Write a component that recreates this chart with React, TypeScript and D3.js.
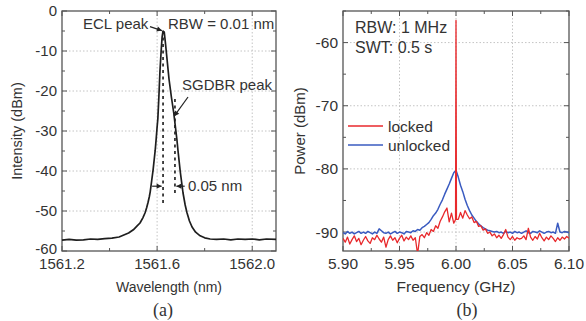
import React from "react";
import * as d3 from "d3";

// ---------- Data: panel (a) ----------
const eclWavelength = [
  1561.20, 1561.23, 1561.26, 1561.29, 1561.32, 1561.35, 1561.38, 1561.41, 1561.44, 1561.46,
  1561.48, 1561.50, 1561.515, 1561.528, 1561.54, 1561.549, 1561.556, 1561.562, 1561.567, 1561.571,
  1561.577, 1561.583, 1561.588, 1561.592, 1561.596, 1561.600, 1561.603, 1561.607, 1561.612, 1561.617,
  1561.621, 1561.625, 1561.630, 1561.635, 1561.640, 1561.650, 1561.660, 1561.670, 1561.676, 1561.683,
  1561.688, 1561.697, 1561.709, 1561.718, 1561.726, 1561.736, 1561.747, 1561.762, 1561.781, 1561.800,
  1561.823, 1561.85, 1561.88, 1561.91, 1561.94, 1561.97, 1562.00, 1562.03, 1562.06, 1562.10,
];
const eclIntensity = [
  -57.3, -57.1, -57.3, -57.2, -57.0, -57.1, -56.9, -56.8, -56.5, -56.0,
  -55.5, -54.7, -53.8, -53.0, -51.7, -50.5, -49.2, -47.8, -46.5, -45.2,
  -42.5, -39.8, -37.0, -34.8, -32.0, -29.0, -27.0, -22.0, -15.0, -10.0,
  -6.5, -5.0, -5.3, -8.0, -11.0, -17.0, -21.5, -25.5, -28.5, -32.0,
  -35.0, -40.0, -45.5, -48.5, -50.5, -52.5, -54.0, -55.3, -56.2, -56.7,
  -57.0, -57.1, -57.0, -57.2, -57.0, -57.1, -57.0, -57.2, -57.0, -57.1,
];
// dotted marker lines: [wavelength, top dBm, bottom dBm]
const markerLines = [
  [1561.625, -5, -48],
  [1561.675, -22, -46],
];
const xTicksA = [1561.2, 1561.6, 1562.0];
const xMinorA = [1561.4, 1561.8];
const yTicksA = [0, -10, -20, -30, -40, -50, -60];
const yMinorA = [-5, -15, -25, -35, -45, -55];

// ---------- Data: panel (b) ----------
const freqStart = 5.9;
const freqStep = 0.002;
const lockedPower = [
  -91.0, -91.6, -90.8, -91.9, -91.2, -90.6, -91.5, -91.0, -92.0, -91.3,
  -90.7, -91.4, -91.8, -90.9, -91.2, -90.5, -91.1, -91.6, -90.8, -92.4,
  -91.2, -90.6, -91.3, -90.9, -91.7, -91.0, -90.5, -91.4, -90.8, -91.2,
  -90.6, -91.3, -90.9, -93.5, -90.7, -90.4, -90.9, -90.1, -90.5, -89.6,
  -89.9, -89.0, -89.4, -88.3, -87.6, -86.8, -86.2, -88.4, -87.0, -88.6,
  -88.2, -88.0, -86.9, -87.8, -86.6, -87.3, -87.9, -87.6, -88.5, -88.3,
  -89.1, -89.0, -89.7, -89.5, -90.2, -90.0, -90.6, -90.3, -90.9, -90.5,
  -91.0, -90.4, -89.6, -90.8, -91.2, -90.7, -91.3, -90.9, -91.1, -91.0,
  -90.6, -91.2, -89.4, -90.8, -91.3, -90.7, -91.1, -90.2, -90.9, -91.4,
  -90.8, -91.2, -90.6, -91.0, -91.5, -90.9, -91.3, -90.8, -91.1, -90.7,
  -91.0,
];
// narrow locked carrier spike around 6.000 GHz
const spikeFreq = [5.9996, 6.0, 6.0004];
const spikePower = [-88.0, -56.5, -88.0];
const unlockedPower = [
  -90.1, -90.3, -89.9, -90.2, -90.0, -90.3, -90.1, -89.9, -90.2, -90.0,
  -90.2, -89.9, -90.1, -90.3, -90.0, -90.2, -89.5, -89.8, -90.1, -90.2,
  -90.0, -90.3, -90.1, -89.9, -90.2, -90.0, -90.1, -90.3, -89.9, -90.0,
  -90.1, -89.8, -89.9, -89.6, -89.7, -89.3, -89.1, -88.8, -88.5, -88.0,
  -87.4, -87.0, -86.4, -85.6, -84.9, -84.0, -83.2, -82.4, -81.5, -80.6,
  -80.2, -81.3, -82.6, -83.6, -84.8, -85.8, -86.6, -87.3, -87.8, -88.3,
  -88.7, -89.0, -89.3, -89.5, -89.7, -89.8, -89.9, -90.0, -89.9, -90.1,
  -90.0, -90.2, -89.9, -90.1, -90.0, -90.2, -89.9, -90.1, -90.0, -90.2,
  -90.0, -89.8, -90.1, -90.2, -89.9, -90.0, -90.1, -89.8, -90.0, -90.2,
  -90.0, -89.9, -90.1, -90.0, -90.2, -88.6, -90.0, -90.1, -89.9, -90.0,
  -90.1,
];
const xTicksB = [5.9, 5.95, 6.0, 6.05, 6.1];
const xMinorB = [5.925, 5.975, 6.025, 6.075];
const yTicksB = [-60, -70, -80, -90];
const yMinorB = [-55, -65, -75, -85];

const SANS = "'Liberation Sans', Arial, sans-serif";
const TXT = "#333";
const GRID = "#c4c4c4";
const FRAME = "#555";
const RED = "#e8292c";
const BLUE = "#3a5bc0";

type Box = { x0: number; x1: number; y0: number; y1: number };

function Frame({
  box, xs, ys, xMaj, xMin, yMaj, yMin, xGrid, yGrid, xFmt, yFmt, xLabelY, tickFont,
}: {
  box: Box;
  xs: d3.ScaleLinear<number, number>;
  ys: d3.ScaleLinear<number, number>;
  xMaj: number[]; xMin: number[]; yMaj: number[]; yMin: number[];
  xGrid: number[]; yGrid: number[];
  xFmt: (v: number) => string; yFmt: (v: number) => string;
  xLabelY: number; tickFont: number;
}) {
  const L = 5, l = 3;
  return (
    <g>
      {xGrid.map((v, i) => (
        <line key={"xg" + i} x1={xs(v)} x2={xs(v)} y1={box.y0} y2={box.y1}
          stroke={GRID} strokeWidth={1} strokeDasharray="1.5,2" />
      ))}
      {yGrid.map((v, i) => (
        <line key={"yg" + i} x1={box.x0} x2={box.x1} y1={ys(v)} y2={ys(v)}
          stroke={GRID} strokeWidth={1} strokeDasharray="1.5,2" />
      ))}
      {xMaj.map((v, i) => (
        <g key={"xt" + i}>
          <line x1={xs(v)} x2={xs(v)} y1={box.y1} y2={box.y1 - L} stroke={FRAME} />
          <line x1={xs(v)} x2={xs(v)} y1={box.y0} y2={box.y0 + L} stroke={FRAME} />
          <text x={xs(v)} y={xLabelY} textAnchor="middle" fontFamily={SANS} fontSize={tickFont} fill={TXT}>{xFmt(v)}</text>
        </g>
      ))}
      {xMin.map((v, i) => (
        <g key={"xm" + i}>
          <line x1={xs(v)} x2={xs(v)} y1={box.y1} y2={box.y1 - l} stroke={FRAME} />
          <line x1={xs(v)} x2={xs(v)} y1={box.y0} y2={box.y0 + l} stroke={FRAME} />
        </g>
      ))}
      {yMaj.map((v, i) => (
        <g key={"yt" + i}>
          <line x1={box.x0} x2={box.x0 + L} y1={ys(v)} y2={ys(v)} stroke={FRAME} />
          <line x1={box.x1} x2={box.x1 - L} y1={ys(v)} y2={ys(v)} stroke={FRAME} />
          <text x={box.x0 - 5} y={ys(v)} dy={i === yMaj.length - 1 && ys(v) > box.y1 - 2 ? "0.2em" : "0.36em"}
            textAnchor="end" fontFamily={SANS} fontSize={tickFont} fill={TXT}>{yFmt(v)}</text>
        </g>
      ))}
      {yMin.map((v, i) => (
        <g key={"ym" + i}>
          <line x1={box.x0} x2={box.x0 + l} y1={ys(v)} y2={ys(v)} stroke={FRAME} />
          <line x1={box.x1} x2={box.x1 - l} y1={ys(v)} y2={ys(v)} stroke={FRAME} />
        </g>
      ))}
      <rect x={box.x0} y={box.y0} width={box.x1 - box.x0} height={box.y1 - box.y0}
        fill="none" stroke={FRAME} strokeWidth={1.3} />
    </g>
  );
}

function Arrow({ x1, y1, x2, y2 }: { x1: number; y1: number; x2: number; y2: number }) {
  const a = Math.atan2(y2 - y1, x2 - x1);
  const h = 5, w = 2.6;
  const p1 = [x2 - h * Math.cos(a) + w * Math.sin(a), y2 - h * Math.sin(a) - w * Math.cos(a)];
  const p2 = [x2 - h * Math.cos(a) - w * Math.sin(a), y2 - h * Math.sin(a) + w * Math.cos(a)];
  return (
    <g>
      <line x1={x1} y1={y1} x2={x2} y2={y2} stroke="#222" strokeWidth={1.2} />
      <polygon points={`${x2},${y2} ${p1[0]},${p1[1]} ${p2[0]},${p2[1]}`} fill="#222" />
    </g>
  );
}

export default function App() {
  const boxA: Box = { x0: 62, x1: 276, y0: 11, y1: 251 };
  const boxB: Box = { x0: 343, x1: 569, y0: 11, y1: 251 };

  const xa = d3.scaleLinear().domain([1561.2, 1562.1]).range([boxA.x0, boxA.x1]);
  const ya = d3.scaleLinear().domain([-60, 0]).range([boxA.y1, boxA.y0]);
  const xb = d3.scaleLinear().domain([5.9, 6.1]).range([boxB.x0, boxB.x1]);
  const yb = d3.scaleLinear().domain([-93, -55]).range([boxB.y1, boxB.y0]);

  const eclPts: [number, number][] = eclWavelength.map((w, i) => [w, eclIntensity[i]]);
  const lineA = d3.line<[number, number]>().x((d) => xa(d[0])).y((d) => ya(d[1]));

  const lineB = d3.line<[number, number]>()
    .x((d) => xb(d[0]))
    .y((d) => yb(Math.max(-93.5, d[1])));

  const unlockedPts: [number, number][] = unlockedPower.map((v, i) => [freqStart + i * freqStep, v]);
  const lockedPts: [number, number][] = lockedPower
    .map((v, i) => [freqStart + i * freqStep, v] as [number, number])
    .filter((d) => Math.abs(d[0] - 6.0) > 1e-6)
    .concat(spikeFreq.map((f, i) => [f, spikePower[i]] as [number, number]))
    .sort((a, b) => a[0] - b[0]);

  return (
    <svg width={586} height={321} style={{ position: "absolute", left: 0, top: 0, background: "#fff" }}>
      <defs>
        <clipPath id="clipB">
          <rect x={boxB.x0} y={boxB.y0} width={boxB.x1 - boxB.x0} height={boxB.y1 - boxB.y0} />
        </clipPath>
      </defs>

      {/* Panel (a) */}
      <Frame box={boxA} xs={xa} ys={ya} xMaj={xTicksA} xMin={xMinorA} yMaj={yTicksA} yMin={yMinorA}
        xGrid={[1561.6, 1562.0]} yGrid={[-10, -20, -30, -40, -50]}
        xFmt={(v) => v.toFixed(1)} yFmt={(v) => String(v)} xLabelY={269} tickFont={15} />
      {markerLines.map((m, i) => (
        <line key={"mk" + i} x1={xa(m[0])} x2={xa(m[0])} y1={ya(m[1])} y2={ya(m[2])}
          stroke="#333" strokeWidth={1.8} strokeDasharray="3,3.5" />
      ))}
      <path d={lineA(eclPts) || ""} fill="none" stroke="#1e1e1e" strokeWidth={1.7} strokeLinejoin="round" />
      <text x={83} y={28.5} fontFamily={SANS} fontSize={15} fill={TXT}>ECL peak</text>
      <Arrow x1={xa(1561.57)} y1={ya(-3.9)} x2={xa(1561.62)} y2={ya(-4.9)} />
      <text x={168} y={28.5} fontFamily={SANS} fontSize={15} fill={TXT}>RBW = 0.01 nm</text>
      <text x={182} y={90} fontFamily={SANS} fontSize={15} fill={TXT}>SGDBR peak</text>
      <Arrow x1={xa(1561.73)} y1={ya(-21.5)} x2={xa(1561.672)} y2={ya(-26.3)} />
      <text x={188} y={190.5} fontFamily={SANS} fontSize={15} fill={TXT}>0.05 nm</text>
      <Arrow x1={xa(1561.579)} y1={ya(-43.8)} x2={xa(1561.619)} y2={ya(-43.8)} />
      <Arrow x1={xa(1561.716)} y1={ya(-43.8)} x2={xa(1561.681)} y2={ya(-43.8)} />
      <text transform="translate(22,131) rotate(-90)" textAnchor="middle" fontFamily={SANS} fontSize={14.5} fill={TXT}>Intensity (dBm)</text>
      <text x={169} y={292} textAnchor="middle" fontFamily={SANS} fontSize={14} fill={TXT}>Wavelength (nm)</text>
      <text x={163} y={316} textAnchor="middle" fontFamily="'Liberation Serif', 'Times New Roman', serif" fontSize={18} fill={TXT}>(a)</text>

      {/* Panel (b) */}
      <Frame box={boxB} xs={xb} ys={yb} xMaj={xTicksB} xMin={xMinorB} yMaj={yTicksB} yMin={yMinorB}
        xGrid={[5.95, 6.0, 6.05]} yGrid={[-60, -70, -80, -90]}
        xFmt={(v) => v.toFixed(2)} yFmt={(v) => String(v)} xLabelY={269} tickFont={15.5} />
      <g clipPath="url(#clipB)">
        <path d={lineB(unlockedPts) || ""} fill="none" stroke={BLUE} strokeWidth={1.5} strokeLinejoin="round" />
        <path d={lineB(lockedPts) || ""} fill="none" stroke={RED} strokeWidth={1.3} strokeLinejoin="round" />
      </g>
      <text x={355} y={33} fontFamily={SANS} fontSize={16} fill={TXT}>RBW: 1 MHz</text>
      <text x={355} y={53} fontFamily={SANS} fontSize={16} fill={TXT}>SWT: 0.5 s</text>
      <line x1={348} x2={383} y1={126} y2={126} stroke={RED} strokeWidth={1.5} />
      <text x={388} y={131.5} fontFamily={SANS} fontSize={15.5} fill={TXT}>locked</text>
      <line x1={348} x2={383} y1={145} y2={145} stroke={BLUE} strokeWidth={1.5} />
      <text x={388} y={151} fontFamily={SANS} fontSize={15.5} fill={TXT}>unlocked</text>
      <text transform="translate(305,131) rotate(-90)" textAnchor="middle" fontFamily={SANS} fontSize={15} fill={TXT}>Power (dBm)</text>
      <text x={456} y={292} textAnchor="middle" fontFamily={SANS} fontSize={15.5} fill={TXT}>Frequency (GHz)</text>
      <text x={467} y={316} textAnchor="middle" fontFamily="'Liberation Serif', 'Times New Roman', serif" fontSize={18} fill={TXT}>(b)</text>
    </svg>
  );
}
